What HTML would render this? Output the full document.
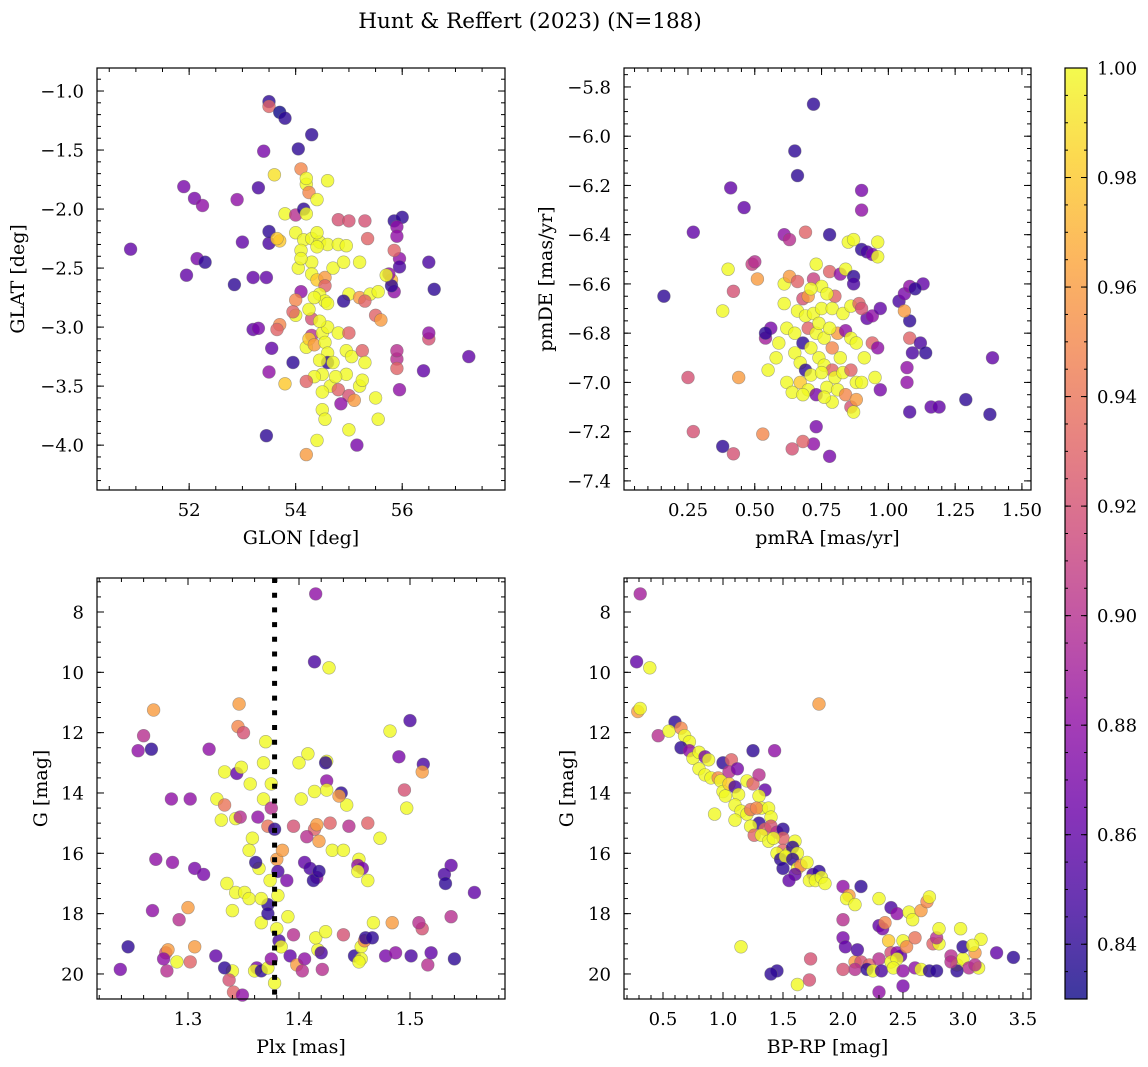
<!DOCTYPE html>
<html><head><meta charset="utf-8"><style>
html,body{margin:0;padding:0;background:#fff;}
svg{display:block;font-family:"DejaVu Serif","Liberation Serif",serif;}
</style></head><body>
<svg id="fig" width="1148" height="1067" viewBox="0 0 1148 1067">
<defs><linearGradient id="plasma" x1="0" y1="1" x2="0" y2="0">
<stop offset="0" stop-color="#0d0887"/><stop offset="0.1" stop-color="#41049d"/><stop offset="0.2" stop-color="#6a00a8"/><stop offset="0.3" stop-color="#8f0da4"/><stop offset="0.4" stop-color="#b12a90"/><stop offset="0.5" stop-color="#cc4778"/><stop offset="0.6" stop-color="#e16462"/><stop offset="0.7" stop-color="#f2844b"/><stop offset="0.8" stop-color="#fca636"/><stop offset="0.9" stop-color="#fcce25"/><stop offset="1" stop-color="#f0f921"/>
</linearGradient></defs>
<text x="530" y="28" font-size="21.5" text-anchor="middle">Hunt &amp; Reffert (2023) (N=188)</text>
</svg>
<script>
const glonGlat = [[50.9,-2.34,0.86],[51.9,-1.81,0.87],[52.1,-1.91,0.87],[52.25,-1.97,0.88],[52.15,-2.42,0.87],[52.3,-2.45,0.84],[51.95,-2.56,0.86],[52.9,-1.92,0.88],[53.0,-2.28,0.86],[52.85,-2.64,0.84],[53.4,-1.51,0.87],[53.3,-1.82,0.85],[53.2,-2.58,0.86],[53.45,-2.58,0.86],[53.5,-2.29,0.85],[53.5,-2.19,0.84],[53.5,-1.09,0.84],[53.5,-1.13,0.93],[53.7,-1.18,0.83],[53.8,-1.23,0.84],[54.3,-1.37,0.84],[54.05,-1.49,0.84],[53.6,-1.71,0.99],[54.6,-1.76,1.0],[54.2,-1.79,1.0],[54.1,-1.66,0.95],[54.2,-1.74,1.0],[54.25,-1.86,0.95],[54.4,-1.92,1.0],[53.8,-2.04,1.0],[54.0,-2.05,0.9],[54.15,-2.0,0.84],[54.2,-2.04,1.0],[54.0,-2.2,1.0],[54.15,-2.26,1.0],[54.3,-2.25,1.0],[54.45,-2.28,1.0],[54.6,-2.3,1.0],[54.4,-2.32,1.0],[53.7,-2.27,0.98],[53.65,-2.25,0.98],[54.8,-2.3,1.0],[54.95,-2.31,1.0],[54.8,-2.09,0.92],[55.0,-2.1,0.92],[55.3,-2.1,0.92],[55.35,-2.25,0.93],[54.1,-2.35,1.0],[54.05,-2.5,1.0],[54.3,-2.45,1.0],[54.3,-2.55,1.0],[54.4,-2.6,0.98],[54.55,-2.58,0.96],[54.7,-2.5,1.0],[54.55,-2.65,0.93],[54.1,-2.7,0.88],[54.45,-2.72,1.0],[54.55,-2.78,1.0],[54.6,-2.8,1.0],[55.0,-2.72,1.0],[54.9,-2.78,0.84],[55.2,-2.75,0.96],[55.4,-2.72,1.0],[55.55,-2.7,1.0],[55.3,-2.78,0.93],[55.5,-2.9,0.93],[55.6,-2.94,0.96],[55.85,-2.1,0.84],[56.0,-2.07,0.84],[55.9,-2.15,0.88],[55.9,-2.23,0.88],[55.95,-2.42,0.88],[55.95,-2.49,0.85],[55.85,-2.35,0.93],[56.5,-2.45,0.85],[56.6,-2.68,0.84],[55.8,-2.6,0.97],[55.85,-2.7,0.88],[55.8,-2.65,0.84],[55.75,-2.55,0.88],[55.7,-2.56,1.0],[53.2,-3.02,0.86],[53.7,-2.98,0.95],[53.65,-3.02,0.93],[53.55,-3.18,0.86],[53.95,-3.3,0.84],[53.8,-3.48,0.98],[54.0,-2.9,1.0],[54.0,-2.77,0.95],[53.95,-2.87,0.93],[54.3,-2.93,0.92],[54.3,-3.07,0.9],[54.2,-3.17,1.0],[54.25,-3.1,0.98],[54.35,-3.15,0.96],[54.5,-3.05,1.0],[54.6,-3.0,1.0],[54.55,-3.13,1.0],[54.6,-3.22,1.0],[54.8,-3.05,1.0],[54.95,-3.2,1.0],[55.05,-3.25,1.0],[55.25,-3.2,0.93],[55.3,-3.3,1.0],[55.0,-3.05,0.93],[54.6,-3.3,0.84],[54.5,-3.4,1.0],[54.35,-3.42,1.0],[54.2,-3.46,0.93],[54.65,-3.5,1.0],[54.95,-3.4,1.0],[54.8,-3.53,0.93],[55.0,-3.58,0.92],[55.1,-3.62,0.96],[55.2,-3.5,1.0],[55.25,-3.45,1.0],[54.85,-3.65,0.88],[54.5,-3.7,1.0],[54.55,-3.78,1.0],[55.5,-3.6,1.0],[55.9,-3.27,0.9],[55.9,-3.35,0.93],[55.9,-3.2,0.9],[55.95,-3.53,0.88],[56.4,-3.37,0.86],[56.5,-3.1,0.92],[56.5,-3.05,0.88],[57.25,-3.25,0.86],[53.45,-3.92,0.84],[54.4,-3.96,1.0],[54.2,-4.08,0.96],[55.15,-4.0,0.87],[55.55,-3.78,1.0],[55.0,-3.87,1.0],[53.5,-3.38,0.88],[53.3,-3.01,0.87],[54.1,-2.42,1.0],[54.4,-2.2,1.0],[54.25,-2.85,1.0],[54.45,-2.95,1.0],[54.7,-3.3,1.0],[54.45,-3.28,1.0],[54.75,-3.42,1.0],[54.9,-2.45,1.0],[55.2,-2.45,1.0],[54.5,-3.55,1.0],[54.35,-2.75,1.0]];
const pmPoints = [[0.16,-6.65,0.84],[0.41,-6.21,0.86],[0.46,-6.29,0.86],[0.27,-6.39,0.86],[0.65,-6.06,0.84],[0.66,-6.16,0.84],[0.72,-5.87,0.84],[0.78,-6.4,0.84],[0.90,-6.22,0.87],[0.90,-6.3,0.88],[0.42,-6.63,0.92],[0.38,-6.71,1.0],[0.40,-6.54,1.0],[0.25,-6.98,0.92],[0.27,-7.2,0.92],[0.38,-7.26,0.84],[0.42,-7.29,0.92],[0.44,-6.98,0.96],[0.53,-7.21,0.95],[0.49,-6.52,0.91],[0.50,-6.51,0.9],[0.51,-6.58,0.96],[0.61,-6.4,0.88],[0.63,-6.42,0.9],[0.69,-6.39,0.93],[0.55,-6.95,1.0],[0.58,-6.9,1.0],[0.61,-6.6,1.0],[0.63,-6.57,0.96],[0.66,-6.59,0.93],[0.68,-6.66,0.92],[0.70,-6.65,0.96],[0.72,-6.58,0.91],[0.73,-6.52,1.0],[0.75,-6.61,1.0],[0.78,-6.55,0.93],[0.80,-6.65,0.93],[0.82,-6.56,0.88],[0.84,-6.54,1.0],[0.85,-6.43,1.0],[0.87,-6.42,1.0],[0.90,-6.46,0.84],[0.92,-6.47,0.85],[0.94,-6.48,0.87],[0.96,-6.43,1.0],[0.96,-6.49,1.0],[0.87,-6.57,0.84],[0.87,-6.6,0.85],[0.66,-6.71,1.0],[0.69,-6.73,1.0],[0.72,-6.72,1.0],[0.75,-6.7,1.0],[0.79,-6.7,1.0],[0.83,-6.72,1.0],[0.86,-6.69,1.0],[0.89,-6.68,0.93],[0.92,-6.74,0.86],[0.94,-6.73,0.88],[0.62,-6.78,1.0],[0.59,-6.84,1.0],[0.54,-6.82,0.89],[0.56,-6.78,0.87],[0.54,-6.8,0.84],[0.65,-6.8,1.0],[0.68,-6.84,0.84],[0.70,-6.78,0.93],[0.73,-6.8,1.0],[0.76,-6.82,1.0],[0.79,-6.86,0.95],[0.81,-6.8,0.96],[0.84,-6.79,0.88],[0.86,-6.82,1.0],[0.88,-6.84,1.0],[0.91,-6.9,1.0],[0.94,-6.84,0.93],[0.96,-6.86,0.88],[0.65,-6.88,1.0],[0.67,-6.92,1.0],[0.69,-6.95,0.84],[0.71,-6.97,1.0],[0.74,-6.9,1.0],[0.76,-6.93,1.0],[0.79,-6.95,0.93],[0.80,-6.98,1.0],[0.83,-6.96,1.0],[0.86,-6.95,0.93],[0.88,-7.0,1.0],[0.62,-7.0,1.0],[0.64,-7.04,1.0],[0.67,-7.0,0.98],[0.70,-7.03,1.0],[0.73,-7.05,0.87],[0.77,-7.02,1.0],[0.79,-7.08,1.0],[0.81,-7.03,1.0],[0.84,-7.05,0.95],[0.86,-7.1,0.92],[0.87,-7.12,1.0],[0.88,-7.07,0.96],[0.73,-7.18,0.87],[0.72,-7.25,0.88],[0.68,-7.24,0.93],[0.64,-7.27,0.92],[0.78,-7.3,0.87],[0.90,-6.7,0.92],[0.97,-6.7,0.86],[1.04,-6.67,0.85],[1.06,-6.64,0.87],[1.08,-6.61,0.88],[1.13,-6.6,0.86],[1.10,-6.62,0.84],[1.08,-6.75,0.84],[1.06,-6.71,0.96],[1.08,-6.82,0.93],[1.12,-6.84,0.85],[1.14,-6.88,0.84],[1.09,-6.88,0.85],[1.07,-6.94,0.88],[1.07,-7.0,0.88],[1.08,-7.12,0.85],[1.16,-7.1,0.86],[1.19,-7.1,0.86],[1.29,-7.07,0.84],[1.38,-7.13,0.84],[1.39,-6.9,0.86],[0.97,-7.03,0.87],[0.90,-7.0,1.0],[0.95,-6.98,1.0],[0.71,-6.62,1.0],[0.77,-6.64,1.0],[0.74,-6.76,1.0],[0.78,-6.78,1.0],[0.71,-6.86,1.0],[0.75,-6.96,1.0],[0.82,-6.9,1.0],[0.68,-7.05,1.0],[0.76,-7.06,1.0],[0.61,-6.68,1.0]];
const plxG = [[1.415,7.4,0.88],[1.414,9.65,0.85],[1.427,9.85,1.0],[1.269,11.25,0.96],[1.346,11.05,0.96],[1.482,11.95,1.0],[1.500,11.6,0.85],[1.260,12.1,0.9],[1.255,12.6,0.88],[1.267,12.55,0.84],[1.319,12.55,0.88],[1.345,11.8,0.95],[1.350,12.0,0.92],[1.370,12.3,1.0],[1.408,12.7,1.0],[1.425,12.95,1.0],[1.424,13.0,0.84],[1.400,13.0,1.0],[1.490,12.8,0.87],[1.512,13.05,0.85],[1.511,13.3,0.96],[1.333,13.3,1.0],[1.344,13.35,0.86],[1.348,13.15,1.0],[1.356,13.7,1.0],[1.368,13.0,1.0],[1.375,13.7,1.0],[1.368,14.2,1.0],[1.375,14.5,0.9],[1.402,14.2,1.0],[1.425,13.6,0.88],[1.425,13.9,1.0],[1.438,14.0,0.84],[1.443,14.4,1.0],[1.436,14.1,0.96],[1.414,13.95,1.0],[1.302,14.2,0.88],[1.326,14.2,1.0],[1.333,14.4,0.94],[1.330,14.9,1.0],[1.343,14.85,1.0],[1.347,14.8,0.9],[1.363,14.8,0.88],[1.372,15.1,0.94],[1.378,15.2,0.84],[1.395,15.1,0.92],[1.414,15.2,0.93],[1.416,15.05,0.96],[1.418,15.6,0.96],[1.428,15.0,0.93],[1.445,15.1,0.9],[1.462,15.0,0.93],[1.473,15.5,1.0],[1.430,15.9,1.0],[1.440,15.9,1.0],[1.454,16.2,1.0],[1.380,16.2,0.96],[1.385,15.9,0.96],[1.407,15.45,0.9],[1.358,15.5,1.0],[1.355,15.9,1.0],[1.364,16.5,1.0],[1.361,16.3,0.84],[1.381,16.6,0.85],[1.374,16.9,1.0],[1.389,16.9,0.87],[1.405,16.3,0.86],[1.410,16.5,0.85],[1.416,16.8,0.88],[1.413,16.9,0.84],[1.418,16.6,0.84],[1.453,16.4,0.88],[1.457,16.5,0.87],[1.453,16.6,1.0],[1.462,16.9,1.0],[1.335,17.0,1.0],[1.340,17.9,1.0],[1.343,17.3,1.0],[1.351,17.3,1.0],[1.355,17.5,1.0],[1.372,17.7,0.84],[1.366,17.5,1.0],[1.381,17.4,1.0],[1.306,16.5,0.87],[1.314,16.7,0.87],[1.286,16.3,0.88],[1.271,16.2,0.88],[1.285,14.2,0.88],[1.292,18.2,0.9],[1.268,17.9,0.88],[1.280,19.3,0.92],[1.282,19.2,0.96],[1.281,19.9,0.9],[1.278,19.5,0.88],[1.246,19.1,0.84],[1.239,19.85,0.87],[1.290,19.6,1.0],[1.300,17.8,0.96],[1.302,19.6,0.93],[1.306,19.1,0.96],[1.325,19.4,0.86],[1.340,19.9,1.0],[1.333,19.8,0.84],[1.337,20.2,0.92],[1.341,20.6,0.93],[1.349,20.7,0.88],[1.362,19.8,0.87],[1.360,19.9,1.0],[1.366,19.9,0.84],[1.372,19.8,1.0],[1.375,19.5,0.88],[1.382,18.9,0.85],[1.384,19.1,1.0],[1.392,19.4,0.86],[1.398,19.7,0.96],[1.378,20.3,1.0],[1.380,18.5,1.0],[1.366,18.3,1.0],[1.372,18.0,0.84],[1.390,18.1,1.0],[1.395,18.7,0.9],[1.417,19.2,1.0],[1.420,19.3,0.85],[1.405,19.5,0.88],[1.415,18.8,1.0],[1.424,18.6,1.0],[1.440,18.7,0.92],[1.450,19.4,0.84],[1.456,19.1,1.0],[1.459,18.9,0.95],[1.460,18.8,0.84],[1.456,19.5,1.0],[1.454,19.6,1.0],[1.466,18.8,0.84],[1.467,18.3,1.0],[1.484,18.3,0.96],[1.421,19.85,0.9],[1.403,19.9,0.9],[1.478,19.4,0.87],[1.487,19.3,0.88],[1.501,19.4,0.85],[1.511,18.5,0.92],[1.508,18.3,0.9],[1.516,19.7,0.9],[1.519,19.3,0.86],[1.540,19.5,0.84],[1.537,18.1,0.9],[1.537,16.4,0.86],[1.531,16.7,0.85],[1.532,17.0,0.84],[1.558,17.3,0.86],[1.497,14.5,1.0],[1.495,13.9,0.92]];
const bprpG = [[0.31,7.4,0.89],[0.28,9.65,0.86],[0.39,9.85,1.0],[0.29,11.3,0.96],[0.31,11.2,1.0],[0.46,12.1,0.9],[0.6,11.65,0.84],[0.55,11.95,1.0],[0.65,11.85,0.95],[0.68,12.1,1.0],[0.72,12.3,1.0],[0.65,12.5,0.84],[0.72,12.6,0.88],[0.75,12.85,1.0],[0.8,12.65,1.0],[0.85,12.8,0.87],[0.88,12.9,1.0],[0.8,13.2,1.0],[0.85,13.4,1.0],[0.9,13.5,1.0],[0.96,13.5,0.95],[1.0,13.0,0.84],[1.07,12.9,0.93],[1.05,13.3,0.9],[1.12,13.2,0.87],[0.98,13.6,1.0],[1.0,13.95,1.0],[1.02,14.1,1.0],[1.05,13.7,0.98],[1.1,13.8,0.85],[1.13,14.05,1.0],[1.2,13.6,1.0],[1.25,13.7,0.93],[1.3,13.4,0.9],[1.35,13.9,0.86],[1.3,14.1,1.0],[1.32,14.5,1.0],[1.1,14.4,1.0],[1.15,14.6,1.0],[1.2,14.7,1.0],[1.23,14.55,0.94],[1.28,14.5,0.95],[1.38,14.5,1.0],[1.4,14.8,1.0],[1.3,15.0,0.84],[1.35,15.2,0.93],[1.4,15.1,0.92],[1.45,15.3,0.9],[1.5,15.2,0.84],[1.5,15.5,0.93],[1.23,15.1,1.0],[1.26,15.4,0.93],[1.32,15.4,1.0],[1.38,15.6,1.0],[1.42,15.5,1.0],[1.5,15.9,0.93],[1.55,16.0,1.0],[1.6,15.6,1.0],[1.58,15.8,0.84],[1.62,16.0,1.0],[1.45,16.0,1.0],[1.48,16.2,0.84],[1.52,16.1,1.0],[1.58,16.2,0.84],[1.62,16.5,1.0],[1.65,16.4,0.95],[1.7,16.3,1.0],[1.75,16.7,0.85],[1.8,16.6,0.84],[1.72,16.9,1.0],[1.77,16.9,1.0],[1.82,16.8,1.0],[1.85,17.0,1.0],[1.5,16.5,0.84],[1.6,16.7,0.86],[1.55,16.9,0.86],[0.93,14.7,1.0],[1.1,14.9,1.0],[1.25,12.6,0.84],[1.43,12.6,0.88],[1.8,11.05,0.96],[1.15,19.1,1.0],[1.45,19.9,0.84],[1.40,20.0,0.84],[1.73,19.5,0.92],[1.72,20.2,0.92],[1.62,20.35,1.0],[2.0,17.1,0.88],[2.15,17.1,0.84],[2.05,17.4,0.96],[2.03,17.5,1.0],[2.1,17.7,1.0],[2.3,17.5,1.0],[2.4,17.8,0.85],[2.45,18.0,0.88],[2.55,17.95,1.0],[2.58,18.2,1.0],[2.65,17.9,0.96],[2.7,17.6,0.95],[2.72,17.45,1.0],[2.0,18.2,0.9],[2.0,18.8,0.87],[2.02,19.1,0.86],[2.1,19.6,0.96],[2.12,19.2,0.85],[2.15,19.6,0.92],[2.22,19.7,0.93],[2.3,19.5,0.9],[2.3,18.4,0.86],[2.33,18.5,0.87],[2.35,18.3,0.95],[2.38,18.9,0.98],[2.4,19.3,0.92],[2.45,19.3,0.88],[2.48,19.4,0.86],[2.4,19.6,1.0],[2.45,19.5,1.0],[2.5,18.9,1.0],[2.53,19.1,0.95],[2.6,18.8,0.94],[2.75,19.0,0.93],[2.8,19.0,1.0],[2.78,18.8,0.9],[2.8,18.5,1.0],[2.9,19.4,0.9],[2.95,19.7,1.0],[3.0,19.5,1.0],[3.05,19.8,0.9],[3.0,19.1,0.84],[3.1,19.3,0.96],[3.15,18.85,1.0],[2.98,18.5,1.0],[3.13,19.8,1.0],[3.08,19.05,1.0],[3.28,19.3,0.86],[3.42,19.45,0.84],[2.3,20.6,0.88],[2.5,20.4,0.87],[2.1,19.85,0.9],[2.0,19.85,0.92],[2.2,19.85,0.84],[2.25,19.9,1.0],[2.32,19.9,0.85],[2.42,19.8,1.0],[2.5,19.9,0.88],[2.6,19.8,0.88],[2.65,19.85,1.0],[2.72,19.9,0.84],[2.78,19.9,0.84],[2.95,19.9,0.84],[3.1,19.7,0.9],[2.9,19.6,0.9]];
const plxCut = [1.378];
const cbTicks = [0.84,0.86,0.88,0.90,0.92,0.94,0.96,0.98,1.00];

const NS="http://www.w3.org/2000/svg";
const svg=document.getElementById('fig');
const VMIN=0.83, VMAX=1.0;
const stops=["#0d0887","#41049d","#6a00a8","#8f0da4","#b12a90","#cc4778","#e16462","#f2844b","#fca636","#fcce25","#f0f921"];
function hex(h){return [parseInt(h.slice(1,3),16),parseInt(h.slice(3,5),16),parseInt(h.slice(5,7),16)];}
function cmap(v){let t=(v-VMIN)/(VMAX-VMIN);t=Math.max(0,Math.min(1,t))*10;const i=Math.min(9,Math.floor(t)),f=t-i;const a=hex(stops[i]),b=hex(stops[i+1]);return 'rgb('+a.map((c,k)=>Math.round(c+(b[k]-c)*f)).join(',')+')';}
function mk(tag,attrs,parent){const e=document.createElementNS(NS,tag);for(const k in attrs)e.setAttribute(k,attrs[k]);(parent||svg).appendChild(e);return e;}
function fmt(v,d){const s=Math.abs(v).toFixed(d);return (v<-1e-9?'\u2212':'')+s;}

function panel(name,box,xd,yd,inv,xMaj,xMin,xDec,yMaj,yMin,yDec,pts,xlab,ylab,ylabX){
  const g=mk('g',{});
  
  
  const sx=v=>box.x+(v-xd[0])/(xd[1]-xd[0])*box.w;
  const sy=v=>inv?box.y+(v-yd[0])/(yd[1]-yd[0])*box.h:box.y+(yd[1]-v)/(yd[1]-yd[0])*box.h;
  const pg=mk('g',{},g);
  
  
  pts.forEach(p=>{
    const c=mk('circle',{cx:sx(p[0]).toFixed(1),cy:sy(p[1]).toFixed(1),r:6.4,fill:cmap(p[2]),'fill-opacity':0.8,stroke:'#6a6a6a','stroke-opacity':0.55,'stroke-width':0.6},pg);
    
    
  });
  if(name==='plx-g-panel'){
    const l=mk('line',{x1:sx(plxCut[0]),x2:sx(plxCut[0]),y1:box.y,y2:box.y+box.h,stroke:'#000','stroke-width':5,'stroke-dasharray':'5 9.7'},g);
    
    
  }
  const tk=mk('g',{stroke:'#000','stroke-width':1},g);
  const eps=1e-9;
  function xt(step,len){for(let i=Math.ceil(xd[0]/step-eps);i*step<=xd[1]+eps;i++){const x=sx(i*step);mk('line',{x1:x,x2:x,y1:box.y+box.h,y2:box.y+box.h-len},tk);mk('line',{x1:x,x2:x,y1:box.y,y2:box.y+len},tk);}}
  function yt(step,len){const lo=Math.min(yd[0],yd[1]),hi=Math.max(yd[0],yd[1]);for(let i=Math.ceil(lo/step-eps);i*step<=hi+eps;i++){const y=sy(i*step);mk('line',{y1:y,y2:y,x1:box.x,x2:box.x+len},tk);mk('line',{y1:y,y2:y,x1:box.x+box.w,x2:box.x+box.w-len},tk);}}
  xt(xMin,4);xt(xMaj,7);yt(yMin,4);yt(yMaj,7);
  for(let i=Math.ceil(xd[0]/xMaj-eps);i*xMaj<=xd[1]+eps;i++){const t=mk('text',{x:sx(i*xMaj),y:box.y+box.h+26,'font-size':18,'text-anchor':'middle'},g);t.textContent=fmt(i*xMaj,xDec);}
  const lo=Math.min(yd[0],yd[1]),hi=Math.max(yd[0],yd[1]);
  for(let i=Math.ceil(lo/yMaj-eps);i*yMaj<=hi+eps;i++){const t=mk('text',{x:box.x-13,y:sy(i*yMaj)+6.5,'font-size':18,'text-anchor':'end'},g);t.textContent=fmt(i*yMaj,yDec);}
  const fr=mk('rect',{x:box.x,y:box.y,width:box.w,height:box.h,fill:'none',stroke:'#000','stroke-width':1.2},g);
  
  
  const xl=mk('text',{x:box.x+box.w/2,y:box.y+box.h+54,'font-size':19,'text-anchor':'middle'},g);xl.textContent=xlab;
  
  
  const cy=box.y+box.h/2;
  const yl=mk('text',{x:ylabX,y:cy,'font-size':19,'text-anchor':'middle',transform:'rotate(-90 '+ylabX+' '+cy+')'},g);yl.textContent=ylab;
  
  
}
panel('glon-glat-panel',{x:97,y:68,w:408,h:422},[50.27,57.93],[-4.38,-0.805],false,2,0.5,0,0.5,0.1,1,glonGlat,'GLON [deg]','GLAT [deg]',24);
panel('pm-panel',{x:624,y:68,w:407,h:422},[0.0105,1.534],[-7.437,-5.723],false,0.25,0.05,2,0.2,0.05,1,pmPoints,'pmRA [mas/yr]','pmDE [mas/yr]',552);
panel('plx-g-panel',{x:97,y:578,w:408,h:421},[1.218,1.5856],[6.873,20.83],true,0.1,0.02,1,2,0.5,0,plxG,'Plx [mas]','G [mag]',47);
panel('cmd-panel',{x:624,y:578,w:407,h:421},[0.175,3.567],[6.873,20.83],true,0.5,0.1,1,2,0.5,0,bprpG,'BP-RP [mag]','G [mag]',573);

// colorbar
const cb={x:1065,y:68,w:22,h:931};
const cg=mk('g',{});


mk('rect',{x:cb.x,y:cb.y,width:cb.w,height:cb.h,fill:'url(#plasma)','fill-opacity':0.8},cg);
const cy=v=>cb.y+(VMAX-v)/(VMAX-VMIN)*cb.h;
for(let i=166;i<=200;i++){const y=cy(i*0.005);mk('line',{x1:cb.x+cb.w,x2:cb.x+cb.w-3,y1:y,y2:y,stroke:'#000','stroke-width':1},cg);mk('line',{x1:cb.x,x2:cb.x+3,y1:y,y2:y,stroke:'#000','stroke-width':1},cg);}
cbTicks.forEach(v=>{const y=cy(v);mk('line',{x1:cb.x+cb.w,x2:cb.x+cb.w-6,y1:y,y2:y,stroke:'#000','stroke-width':1},cg);mk('line',{x1:cb.x,x2:cb.x+6,y1:y,y2:y,stroke:'#000','stroke-width':1},cg);
  const t=mk('text',{x:cb.x+cb.w+10,y:y+6.5,'font-size':18},cg);t.textContent=v.toFixed(2);
  
  });
mk('rect',{x:cb.x,y:cb.y,width:cb.w,height:cb.h,fill:'none',stroke:'#000','stroke-width':1.2},cg);
</script>
</body></html>
